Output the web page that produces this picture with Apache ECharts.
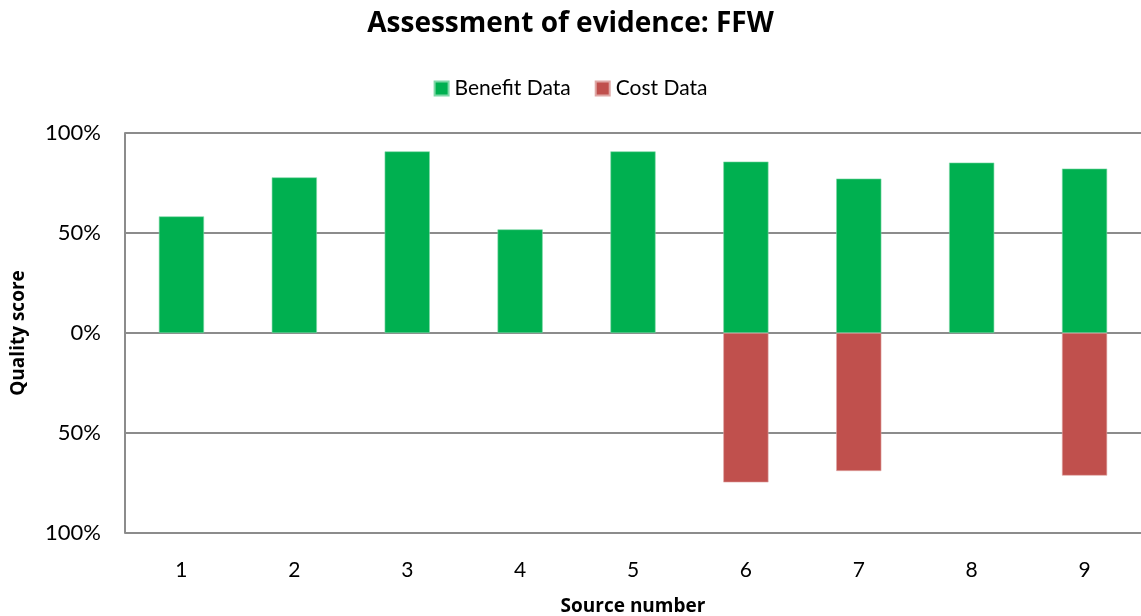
<!DOCTYPE html>
<html>
<head>
<meta charset="utf-8">
<script src="https://cdn.jsdelivr.net/npm/echarts@6/dist/echarts.min.js"></script>
<style>
html,body{margin:0;padding:0;background:#fff;}
#chart{width:1141px;height:616px;}
</style>
</head>
<body>
<div id="chart"></div>
<script>
const categories = ['1','2','3','4','5','6','7','8','9'];
const benefitValues = [0.583, 0.778, 0.908, 0.518, 0.908, 0.857, 0.772, 0.852, 0.822];
const costValues = [null, null, null, null, null, -0.747, -0.69, null, -0.713];
const yTicks = [-1, -0.5, 0, 0.5, 1];

const FONT = 'Lato, "Open Sans", sans-serif';
const BOLD = '"Open Sans", Lato, sans-serif';
const chart = echarts.init(document.getElementById('chart'));
chart.setOption({
  animation: false,
  backgroundColor: '#ffffff',
  textStyle: { fontFamily: FONT },
  title: {
    text: 'Assessment of evidence: FFW',
    left: 'center',
    top: 5,
    textStyle: { fontFamily: BOLD, fontSize: 28, fontWeight: 'bold', color: '#000' }
  },
  legend: {
    data: ['Benefit Data', 'Cost Data'],
    top: 73,
    left: 'center',
    itemWidth: 14,
    itemHeight: 14,
    itemGap: 24,
    icon: 'rect',
    textStyle: { fontFamily: FONT, fontSize: 21, color: '#000', padding: [0, 0, 0, 1] }
  },
  grid: { left: 125, right: 0, top: 133, bottom: 83, containLabel: false, outerBoundsMode: 'none' },
  xAxis: {
    type: 'category',
    data: categories,
    position: 'bottom',
    name: 'Source number',
    nameLocation: 'middle',
    nameGap: 64,
    nameTextStyle: { fontFamily: BOLD, fontSize: 19, fontWeight: 'bold', color: '#000' },
    axisLine: { show: false },
    axisTick: { show: false },
    axisLabel: { fontFamily: FONT, fontSize: 21, color: '#000', margin: 27 }
  },
  yAxis: {
    type: 'value',
    min: yTicks[0],
    max: yTicks[yTicks.length - 1],
    interval: 0.5,
    name: 'Quality score',
    nameLocation: 'middle',
    nameGap: 97,
    nameRotate: 90,
    nameTextStyle: { fontFamily: BOLD, fontSize: 19, fontWeight: 'bold', color: '#000' },
    axisLine: { show: true, onZero: false, lineStyle: { color: '#8c8c8c', width: 2 } },
    axisTick: { show: false },
    axisLabel: {
      fontFamily: FONT, fontSize: 22, color: '#000', margin: 24,
      formatter: v => Math.round(Math.abs(v) * 100) + '%'
    },
    splitLine: { show: true, lineStyle: { color: '#8c8c8c', width: 2 } }
  },
  series: [
    {
      name: 'Benefit Data',
      type: 'bar',
      stack: 'q',
      data: benefitValues,
      barWidth: '40%',
      itemStyle: { color: '#00B050', borderColor: '#7fd8a7', borderWidth: 0.6 }
    },
    {
      name: 'Cost Data',
      type: 'bar',
      stack: 'q',
      data: costValues,
      barWidth: '40%',
      itemStyle: { color: '#C0504D', borderColor: '#dfa8a6', borderWidth: 0.6 }
    }
  ]
});
</script>
</body>
</html>
